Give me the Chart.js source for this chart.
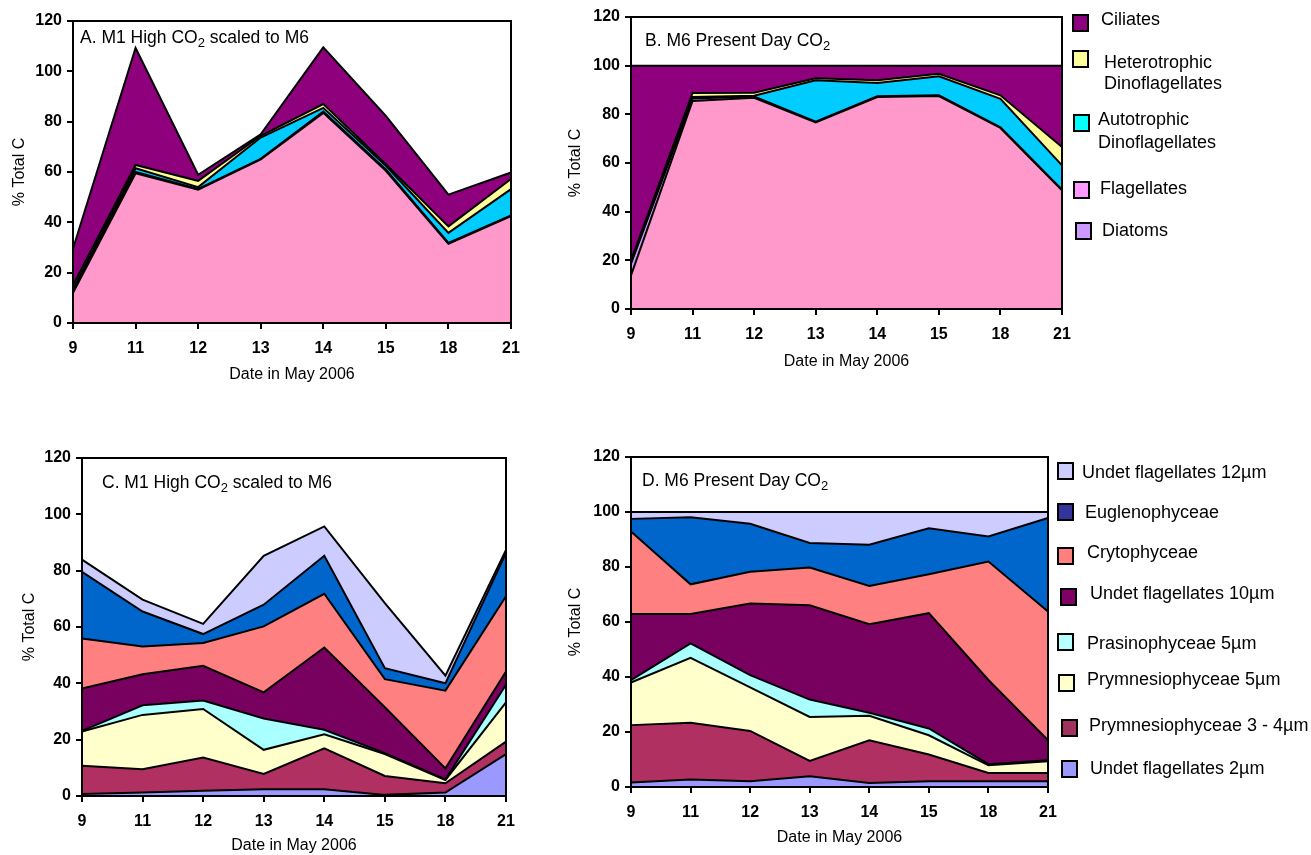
<!DOCTYPE html>
<html>
<head>
<meta charset="utf-8">
<script src="https://cdn.jsdelivr.net/npm/chart.js@4.4.1/dist/chart.umd.min.js"></script>
<style>
  body { margin:0; background:#fff; width:1311px; height:855px; position:relative; overflow:hidden;
         font-family:"Liberation Sans", Arial, sans-serif; }
  canvas { position:absolute; }
  .sw { position:absolute; box-sizing:border-box; width:17px; height:18px; border:2px solid #000; }
  .lt { position:absolute; font-size:18px; color:#000; white-space:pre; }
</style>
</head>
<body>
<canvas id="cA"></canvas>
<canvas id="cB"></canvas>
<canvas id="cC"></canvas>
<canvas id="cD"></canvas>
<div id="legends"></div>
<script>
// dates in May 2006
const dates = ['9', '11', '12', '13', '14', '15', '18', '21'];

// --- top panels: % total C by group (A = M1 high CO2, B = M6 present day) ---
const flagellatesA = [12, 59.5, 53, 65, 83.5, 60.5, 31.5, 42.5];
const diatomsA     = [1, 0.5, 0.3, 0.2, 0.5, 0.5, 0.3, 0.2];
const autoDinoA    = [0.5, 1.5, 0.7, 8.5, 1.5, 1.5, 4, 10.5];
const heteroDinoA  = [1.5, 1.3, 2.5, 0.7, 1.5, 0.6, 2.6, 4];
const ciliatesA    = [14.5, 46.5, 2.4, 0.6, 22.5, 19.2, 12.6, 2.6];

const flagellatesB = [13.8, 85.5, 86.8, 76.7, 87.1, 87.5, 74.4, 48.8];
const diatomsB     = [4.8, 1, 0.5, 0.3, 0.3, 0.3, 0.3, 0.2];
const autoDinoB    = [0.5, 0.6, 0.3, 17, 5.5, 7.8, 11.7, 10];
const heteroDinoB  = [0.9, 1.7, 1.3, 0.8, 1.1, 1.1, 1.4, 7.6];
const ciliatesB    = [80, 11.2, 11.1, 5.2, 6, 3.3, 12.2, 33.4];

// --- bottom panels: flagellate classes (C = M1 high CO2, D = M6 present day) ---
const undet2C  = [0.7, 1.2, 1.9, 2.4, 2.4, 0.4, 1.2, 14.9];
const prym34C  = [10.0, 8.3, 11.8, 5.4, 14.5, 6.7, 3.3, 4.4];
const prym5C   = [12.2, 19.3, 17.2, 8.6, 5.0, 7.8, 1.2, 13.9];
const prasC    = [0.2, 3.4, 3.0, 11.1, 1.6, 0.3, 0.2, 6.3];
const undet10C = [15.1, 11.0, 12.3, 9.3, 29.2, 16.3, 3.9, 4.7];
const crytoC   = [17.7, 9.9, 8.1, 23.4, 19.1, 10.0, 27.6, 26.7];
const eugleC   = [23.7, 12.4, 3.2, 7.7, 13.5, 3.9, 2.6, 15.4];
const undet12C = [4.3, 4.2, 3.6, 17.4, 10.4, 23.1, 2.7, 1.1];

const undet2D  = [1.6, 2.7, 2.1, 3.9, 1.5, 2.1, 2.1, 2.1];
const prym34D  = [20.9, 20.7, 18.3, 5.6, 15.5, 9.7, 3.0, 3.0];
const prym5D   = [15.5, 23.6, 15.8, 16.0, 8.9, 7.0, 2.8, 4.3];
const prasD    = [0.9, 5.2, 4.5, 6.3, 1.1, 2.5, 0.4, 0.3];
const undet10D = [24.0, 10.7, 26.0, 34.3, 32.2, 41.9, 30.6, 7.3];
const crytoD   = [30.0, 10.8, 11.6, 13.7, 13.9, 14.2, 43.1, 46.8];
const eugleD   = [4.6, 24.4, 17.4, 8.9, 15.0, 16.7, 9.1, 34.0];
const undet12D = [2.5, 1.9, 4.3, 11.3, 11.9, 5.9, 8.9, 2.2];

// series names, bottom of stack first
const groupNames = ['Flagellates', 'Diatoms', 'Autotrophic Dinoflagellates', 'Heterotrophic Dinoflagellates', 'Ciliates'];
const classNames = ['Undet flagellates 2µm', 'Prymnesiophyceae 3 - 4µm', 'Prymnesiophyceae 5µm', 'Prasinophyceae 5µm',
                    'Undet flagellates 10µm', 'Crytophyceae', 'Euglenophyceae', 'Undet flagellates 12µm'];

const groupFill = ['#FF99CC', '#CC99FF', '#00CCFF', '#FFFF99', '#8F007D'];
const classFill = ['#9999FF', '#B03062', '#FFFFCC', '#AAFFFF', '#78005F', '#FF8080', '#0066CC', '#CCCCFF'];

const FONT = '"Liberation Sans", Arial, sans-serif';

function stackSets(series, names, colors) {
  return series.map((d, i) => ({
    label: names[i],
    data: d,
    backgroundColor: colors[i],
    borderColor: '#000',
    borderWidth: 2,
    fill: i === 0 ? 'origin' : '-1',
    pointRadius: 0,
    tension: 0
  }));
}

// panel caption + plot frame
const panelFrame = {
  id: 'panelFrame',
  afterDraw(chart, args, opts) {
    const ctx = chart.ctx, a = chart.chartArea;
    ctx.save();
    ctx.strokeStyle = '#000';
    ctx.lineWidth = 2;
    ctx.strokeRect(a.left, a.top, a.right - a.left, a.bottom - a.top);
    const parts = opts.text.split('_2');
    let x = a.left + opts.dx, y = a.top + opts.dy;
    ctx.fillStyle = '#000';
    ctx.textBaseline = 'middle';
    ctx.font = '17.5px ' + FONT;
    ctx.fillText(parts[0], x, y);
    x += ctx.measureText(parts[0]).width;
    ctx.font = '13px ' + FONT;
    ctx.fillText('2', x, y + 5);
    x += ctx.measureText('2').width;
    ctx.font = '17.5px ' + FONT;
    ctx.fillText(parts[1], x, y);
    ctx.restore();
  }
};

function makePanel(id, g, datasets, caption) {
  const cv = document.getElementById(id);
  cv.width = g.w; cv.height = g.h;
  cv.style.left = g.left + 'px'; cv.style.top = g.top + 'px';
  cv.style.width = g.w + 'px'; cv.style.height = g.h + 'px';
  return new Chart(cv.getContext('2d'), {
    type: 'line',
    data: { labels: dates, datasets: datasets },
    options: {
      responsive: false,
      animation: false,
      layout: { padding: { top: g.pt, right: g.pr, bottom: 0, left: 0 } },
      plugins: {
        legend: { display: false },
        tooltip: { enabled: false },
        filler: { drawTime: 'beforeDatasetsDraw' },
        panelFrame: { text: caption, dx: g.dx, dy: g.dy }
      },
      scales: {
        x: {
          offset: false,
          grid: { drawOnChartArea: false, color: '#000', lineWidth: 2, tickLength: 6 },
          border: { color: '#000', width: 2 },
          ticks: { color: '#000', font: { family: FONT, size: 16, weight: 'bold' }, padding: 10,
                   autoSkip: false, maxRotation: 0 },
          title: { display: true, text: 'Date in May 2006', color: '#000',
                   font: { family: FONT, size: 16, lineHeight: 1.2 }, padding: { top: 0, bottom: g.xtp } },
          afterFit: s => { s.height = g.xh; }
        },
        y: {
          stacked: true,
          min: 0, max: 120,
          grid: { drawOnChartArea: false, color: '#000', lineWidth: 2, tickLength: 6 },
          border: { color: '#000', width: 2 },
          ticks: { stepSize: 20, color: '#000', font: { family: FONT, size: 16, weight: 'bold' }, padding: 5 },
          title: { display: true, text: '% Total C', color: '#000',
                   font: { family: FONT, size: 16, lineHeight: 1.2 }, padding: { top: g.ytp, bottom: 0 } },
          afterFit: s => { s.width = g.yw; }
        }
      }
    },
    plugins: [panelFrame]
  });
}

makePanel('cA', { left: 0, top: 0, w: 535, h: 400, pt: 21, pr: 24, yw: 73, xh: 77, ytp: 10, xtp: 16, dx: 7, dy: 17 },
  stackSets([flagellatesA, diatomsA, autoDinoA, heteroDinoA, ciliatesA], groupNames, groupFill),
  'A. M1 High CO_2 scaled to M6');

makePanel('cB', { left: 560, top: 0, w: 526, h: 390, pt: 17, pr: 24, yw: 71, xh: 81, ytp: 6, xtp: 19, dx: 14, dy: 24 },
  stackSets([flagellatesB, diatomsB, autoDinoB, heteroDinoB, ciliatesB], groupNames, groupFill),
  'B. M6 Present Day CO_2');

makePanel('cC', { left: 0, top: 440, w: 530, h: 415, pt: 18, pr: 24, yw: 82, xh: 59, ytp: 20, xtp: 0, dx: 20, dy: 25 },
  stackSets([undet2C, prym34C, prym5C, prasC, undet10C, crytoC, eugleC, undet12C], classNames, classFill),
  'C. M1 High CO_2 scaled to M6');

makePanel('cD', { left: 560, top: 440, w: 512, h: 415, pt: 17, pr: 24, yw: 71, xh: 68, ytp: 6, xtp: 8, dx: 11, dy: 24 },
  stackSets([undet2D, prym34D, prym5D, prasD, undet10D, crytoD, eugleD, undet12D], classNames, classFill),
  'D. M6 Present Day CO_2');

// legends (top of stack listed first, swatch colours as in the original key)
const legendGroupText  = ['Ciliates', 'Heterotrophic\nDinoflagellates', 'Autotrophic\nDinoflagellates', 'Flagellates', 'Diatoms'];
const legendGroupColor = ['#8B007D', '#FFFF99', '#00FFFF', '#FF99FF', '#CC99FF'];
const legendClassText  = classNames.slice().reverse();
const legendClassColor = ['#CCCCFF', '#333399', '#FF7F7F', '#800066', '#B8FFFF', '#FFFFCC', '#A0325F', '#9999FF'];

// [swatch x, swatch y, text x, first line centre y, line height]
const legendGroupPos = [[1072, 14, 1101, 19, 21], [1072, 50, 1104, 62, 21], [1073, 114, 1098, 119, 23],
                        [1073, 181, 1100, 188, 21], [1075, 222, 1102, 230, 21]];
const legendClassPos = [[1057, 462, 1082, 472, 20], [1057, 503, 1085, 512, 20], [1057, 547, 1087, 552, 20],
                        [1060, 588, 1090, 593, 20], [1057, 633, 1087, 643, 20], [1058, 674, 1087, 679, 20],
                        [1061, 719, 1089, 725, 20], [1061, 760, 1090, 768, 20]];

function buildLegend(texts, colors, pos) {
  const host = document.getElementById('legends');
  texts.forEach((t, i) => {
    const p = pos[i];
    const sw = document.createElement('div');
    sw.className = 'sw';
    sw.style.left = p[0] + 'px'; sw.style.top = p[1] + 'px';
    sw.style.background = colors[i];
    host.appendChild(sw);
    const lt = document.createElement('div');
    lt.className = 'lt';
    lt.style.left = p[2] + 'px';
    lt.style.top = (p[3] - p[4] / 2) + 'px';
    lt.style.lineHeight = p[4] + 'px';
    lt.textContent = t;
    host.appendChild(lt);
  });
}
buildLegend(legendGroupText, legendGroupColor, legendGroupPos);
buildLegend(legendClassText, legendClassColor, legendClassPos);
</script>
</body>
</html>
